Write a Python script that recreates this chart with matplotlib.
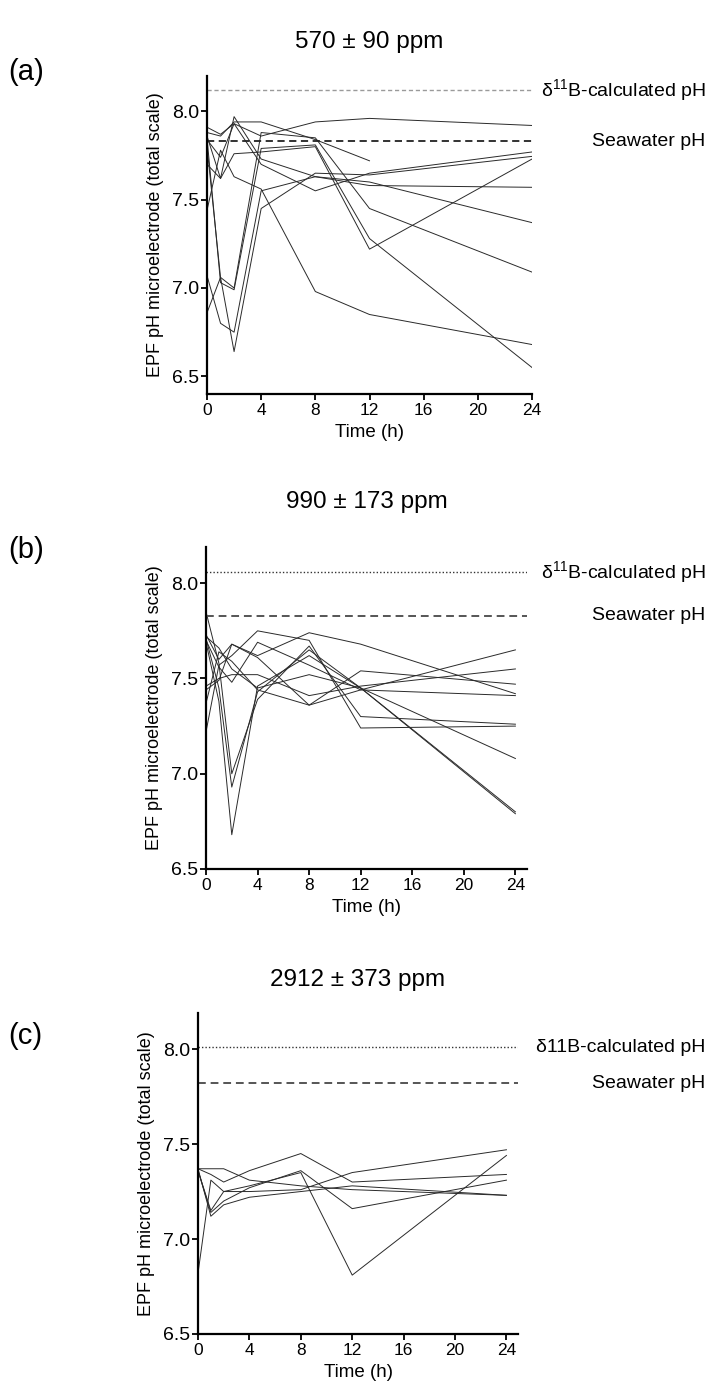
import numpy as np
import matplotlib
matplotlib.use("Agg")
from matplotlib import pyplot as plt

plt.rcParams['font.family'] = ['Liberation Sans', 'DejaVu Sans']
plt.rcParams['mathtext.fontset'] = 'custom'
plt.rcParams['mathtext.rm'] = 'Liberation Sans'
plt.rcParams['mathtext.default'] = 'regular'

hours = [0, 1, 2, 4, 8, 12, 24]
nan = np.nan

# EPF pH per individual, 570 ppm
ph_570 = [
    [7.91, 7.87, 7.93, 7.86, 7.94, 7.96, 7.92],
    [7.88, 7.86, 7.94, 7.94, 7.84, 7.72, nan],
    [7.86, 7.62, 7.97, 7.73, 7.63, 7.58, 7.57],
    [7.80, 7.06, 7.00, 7.88, 7.85, 7.45, 7.09],
    [7.85, 7.03, 6.99, 7.79, 7.81, 7.28, 6.55],
    [7.44, 7.78, 7.63, 7.56, 6.98, 6.85, 6.68],
    [6.86, 7.06, 6.64, 7.45, 7.65, 7.64, 7.745],
    [7.07, 6.80, 6.75, 7.55, 7.63, 7.60, 7.37],
    [7.70, 7.62, 7.76, 7.77, 7.80, 7.22, 7.73],
    [7.84, 7.74, 7.93, 7.70, 7.55, 7.65, 7.77],
]

# 990 ppm
ph_990 = [
    [7.73, 7.60, 7.68, 7.62, 7.74, 7.68, 7.42],
    [7.85, 7.58, 7.00, 7.39, 7.67, 7.30, 7.26],
    [7.71, 7.45, 6.93, 7.43, 7.65, 7.45, 6.80],
    [7.69, 7.38, 6.68, 7.46, 7.62, 7.45, 6.79],
    [7.46, 7.50, 7.52, 7.52, 7.41, 7.46, 7.55],
    [7.37, 7.64, 7.59, 7.44, 7.36, 7.44, 7.65],
    [7.44, 7.49, 7.68, 7.61, 7.36, 7.54, 7.47],
    [7.22, 7.57, 7.62, 7.75, 7.70, 7.24, 7.25],
    [7.72, 7.66, 7.55, 7.45, 7.52, 7.45, 7.08],
    [7.70, 7.56, 7.48, 7.69, 7.57, 7.44, 7.41],
]

# 2912 ppm
ph_2912 = [
    [7.37, 7.37, 7.37, 7.31, 7.28, 7.26, 7.23],
    [7.37, 7.34, 7.30, 7.36, 7.45, 7.30, 7.34],
    [7.36, 7.15, 7.25, 7.25, 7.26, 7.35, 7.47],
    [7.37, 7.12, 7.18, 7.22, 7.25, 7.28, 7.23],
    [6.82, 7.31, 7.25, 7.28, 7.35, 6.81, 7.44],
    [7.36, 7.14, 7.20, 7.27, 7.36, 7.16, 7.31],
]

titles = ["570 ± 90 ppm", "990 ± 173 ppm", "2912 ± 373 ppm"]
panel_tags = ["(a)", "(b)", "(c)"]
boron_ph = [8.12, 8.06, 8.01]
seawater_ph = [7.83, 7.83, 7.82]
boron_labels = ["δ$^{11}$B-calculated pH", "δ$^{11}$B-calculated pH", "δ11B-calculated pH"]

fig = plt.figure(figsize=(7.09, 13.95), dpi=100)

W, H = 709, 1395
# left, right, top, bottom in pixels
boxes = [(207, 532, 76, 394), (206, 527, 547, 869), (198, 518, 1013, 1334)]
ylims = [(6.4, 8.2), (6.5, 8.19), (6.5, 8.19)]
xlims = [(0, 24), (0, 24.9), (0, 24.9)]
title_y = [42, 502, 980]
tag_y = [72, 550, 1036]
boron_style = [dict(color="#9a9a9a", ls=(0, (3, 2)), lw=1.0),
               dict(color="#333333", ls=(0, (1, 1.5)), lw=1.0),
               dict(color="#333333", ls=(0, (1, 1.5)), lw=1.0)]
sea_style = [dict(color="#222222", ls=(0, (4, 2.5)), lw=1.3),
             dict(color="#555555", ls=(0, (4, 2.5)), lw=1.4),
             dict(color="#555555", ls=(0, (4, 2.5)), lw=1.4)]

for i, data in enumerate([ph_570, ph_990, ph_2912]):
    l, r, t, b = boxes[i]
    ax = fig.add_axes([l / W, 1 - b / H, (r - l) / W, (b - t) / H])
    for ind in data:
        y = np.array(ind, dtype=float)
        ok = ~np.isnan(y)
        ax.plot(np.array(hours)[ok], y[ok], color="#2a2a2a", lw=0.7)
    ax.axhline(boron_ph[i], **boron_style[i])
    ax.axhline(seawater_ph[i], **sea_style[i])

    ax.set_xlim(*xlims[i])
    ax.set_ylim(*ylims[i])
    ax.set_xticks([0, 4, 8, 12, 16, 20, 24])
    ax.set_yticks([6.5, 7.0, 7.5, 8.0])
    ax.set_yticklabels(["6.5", "7.0", "7.5", "8.0"])
    ax.tick_params(axis="x", labelsize=12.5, length=4.5, width=1.3, pad=2, direction="out")
    ax.tick_params(axis="y", labelsize=14, length=4.5, width=1.3, pad=1, direction="out")
    for s in ["top", "right"]:
        ax.spines[s].set_visible(False)
    for s in ["left", "bottom"]:
        ax.spines[s].set_linewidth(1.6)
    ax.set_xlabel("Time (h)", fontsize=13.5, labelpad=4)
    ax.set_ylabel("EPF pH microelectrode (total scale)", fontsize=13, labelpad=6)

    ax.annotate(boron_labels[i], xy=(0.995, boron_ph[i]),
                xycoords=("figure fraction", "data"), ha="right", va="center",
                fontsize=14, annotation_clip=False)
    ax.annotate("Seawater pH", xy=(0.995, seawater_ph[i]),
                xycoords=("figure fraction", "data"), ha="right", va="center",
                fontsize=14, annotation_clip=False)

    fig.text((l + r) / 2 / W, 1 - title_y[i] / H, titles[i], ha="center",
             va="center", fontsize=17.5)
    fig.text(8 / W, 1 - tag_y[i] / H, panel_tags[i], ha="left", va="center",
             fontsize=21)

fig.savefig("out.png", dpi=100)
